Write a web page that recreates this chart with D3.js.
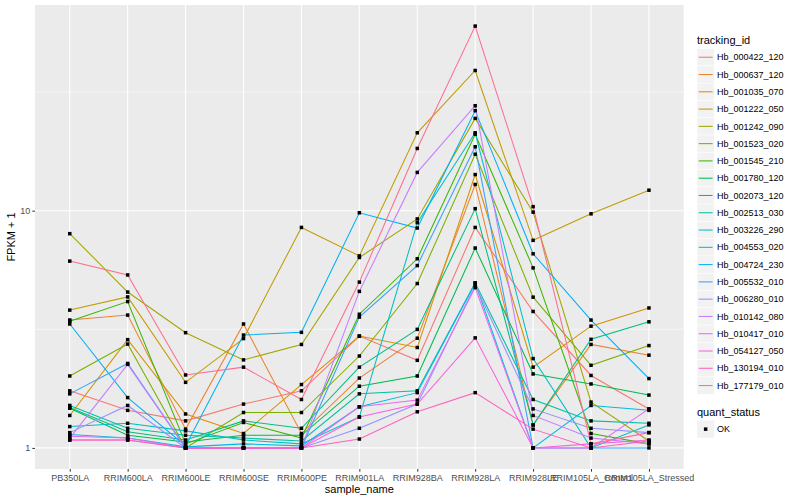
<!DOCTYPE html>
<html>
<head>
<meta charset="utf-8">
<script src="https://cdn.jsdelivr.net/npm/d3@7"></script>
<style>
  body { margin: 0; background: #fff; }
  text { font-family: "Liberation Sans", Arial, sans-serif; }
</style>
</head>
<body>
<svg width="800" height="500"></svg>
<script>
// samples on the x axis
var sampleNames = ["PB350LA", "RRIM600LA", "RRIM600LE", "RRIM600SE", "RRIM600PE", "RRIM901LA",
  "RRIM928BA", "RRIM928LA", "RRIM928LE", "RRIM105LA_Control", "RRIM105LA_Stressed"];

var trackingIds = ["Hb_000422_120", "Hb_000637_120", "Hb_001035_070", "Hb_001222_050", "Hb_001242_090",
  "Hb_001523_020", "Hb_001545_210", "Hb_001780_120", "Hb_002073_120", "Hb_002513_030",
  "Hb_003226_290", "Hb_004553_020", "Hb_004724_230", "Hb_005532_010", "Hb_006280_010",
  "Hb_010142_080", "Hb_010417_010", "Hb_054127_050", "Hb_130194_010", "Hb_177179_010"];

// FPKM + 1, one value per sample
var Hb_000422_120 = [1.74, 1.44, 1.30, 1.53, 1.74, 2.96, 2.34, 8.5, 3.76, 2.02, 1.46];
var Hb_000637_120 = [3.46, 3.63, 1.20, 3.33, 1.15, 1.97, 2.90, 12.9, 1.25, 2.73, 2.46];
var Hb_001035_070 = [1.37, 2.86, 1.39, 1.15, 1.85, 2.96, 2.65, 14.2, 2.19, 3.26, 3.89];
var Hb_001222_050 = [3.81, 4.33, 1.89, 2.89, 8.5, 6.45, 21.3, 39, 7.5, 9.7, 12.2];
var Hb_001242_090 = [8.0, 4.54, 3.06, 2.35, 2.73, 6.35, 9.23, 24.5, 9.86, 1.56, 1.07];
var Hb_001523_020 = [2.01, 2.74, 1.0, 1.41, 1.41, 2.44, 4.93, 17.3, 4.32, 2.23, 2.70];
var Hb_001545_210 = [3.42, 4.14, 1.04, 1.28, 1.10, 3.66, 6.27, 21.0, 5.74, 1.15, 1.04];
var Hb_001780_120 = [1.47, 1.13, 1.06, 1.13, 1.13, 1.82, 2.01, 6.96, 2.05, 1.86, 1.67];
var Hb_002073_120 = [1.48, 1.17, 1.08, 1.30, 1.21, 2.19, 3.16, 10.2, 1.25, 2.87, 3.40];
var Hb_002513_030 = [1.51, 1.21, 1.13, 1.10, 1.07, 1.69, 1.74, 4.96, 1.60, 1.30, 1.27];
var Hb_003226_290 = [1.23, 1.27, 1.18, 1.08, 1.04, 1.35, 8.9, 21.3, 2.38, 1.0, 1.25];
var Hb_004553_020 = [1.14, 1.10, 1.01, 1.04, 1.02, 1.49, 1.71, 4.96, 1.0, 1.51, 1.44];
var Hb_004724_230 = [3.33, 1.63, 1.02, 2.99, 3.07, 9.8, 8.45, 26.4, 6.58, 3.46, 1.96];
var Hb_005532_010 = [1.69, 2.27, 1.0, 1.0, 1.0, 3.56, 5.87, 18.6, 1.0, 1.0, 1.0];
var Hb_006280_010 = [1.16, 1.51, 1.0, 1.0, 1.0, 1.21, 1.53, 4.85, 1.46, 1.21, 1.16];
var Hb_010142_080 = [1.10, 2.25, 1.0, 1.0, 1.0, 4.57, 14.5, 27.7, 1.37, 1.10, 1.04];
var Hb_010417_010 = [1.12, 1.10, 1.0, 1.0, 1.0, 1.49, 1.59, 4.74, 1.0, 1.0, 1.46];
var Hb_054127_050 = [1.08, 1.08, 1.0, 1.0, 1.0, 1.35, 1.53, 2.91, 1.0, 1.04, 1.08];
var Hb_130194_010 = [1.08, 1.08, 1.0, 1.0, 1.0, 1.09, 1.42, 1.71, 1.20, 1.0, 1.07];
var Hb_177179_010 = [6.13, 5.36, 2.03, 2.19, 1.6, 5.0, 18.3, 60, 10.4, 1.04, 1.16];

var seriesValues = [Hb_000422_120, Hb_000637_120, Hb_001035_070, Hb_001222_050, Hb_001242_090,
  Hb_001523_020, Hb_001545_210, Hb_001780_120, Hb_002073_120, Hb_002513_030,
  Hb_003226_290, Hb_004553_020, Hb_004724_230, Hb_005532_010, Hb_006280_010,
  Hb_010142_080, Hb_010417_010, Hb_054127_050, Hb_130194_010, Hb_177179_010];

var yTicks = [1, 10];
var yMinor = [Math.sqrt(10), Math.sqrt(1000)];
var statusLevels = ["OK"];

// ggplot default hue palette for 20 levels
var palette = ["#F8766D", "#EA8331", "#D89000", "#C09B00", "#A3A500", "#7CAE00", "#39B600", "#00BB4E",
  "#00BF7D", "#00C1A3", "#00BFC4", "#00BAE0", "#00B0F6", "#35A2FF", "#9590FF", "#C77CFF",
  "#E76BF3", "#FA62DB", "#FF62BC", "#FF6C91"];

var series = trackingIds.map(function(id, i) {
  return {id: id, values: seriesValues[i].map(function(v, j) { return {sample: sampleNames[j], value: v}; })};
});

var svg = d3.select("svg");
var panel = {left: 35, right: 683.7, top: 5, bottom: 469};

var x = d3.scalePoint()
  .domain(sampleNames)
  .range([panel.left, panel.right])
  .padding(0.6);

var maxLog = Math.log10(d3.max(seriesValues, function(s) { return d3.max(s); }));
var y = d3.scaleLog()
  .domain([Math.pow(10, -0.05 * maxLog), Math.pow(10, 1.05 * maxLog)])
  .range([panel.bottom, panel.top]);

var color = d3.scaleOrdinal().domain(trackingIds).range(palette);

svg.append("rect")
  .attr("x", panel.left).attr("y", panel.top)
  .attr("width", panel.right - panel.left).attr("height", panel.bottom - panel.top)
  .attr("fill", "#EBEBEB");

// grid
svg.append("g").selectAll("line").data(yMinor).enter().append("line")
  .attr("x1", panel.left).attr("x2", panel.right)
  .attr("y1", function(d) { return y(d); }).attr("y2", function(d) { return y(d); })
  .attr("stroke", "#fff").attr("stroke-width", 0.55);
svg.append("g").selectAll("line").data(yTicks).enter().append("line")
  .attr("x1", panel.left).attr("x2", panel.right)
  .attr("y1", function(d) { return y(d); }).attr("y2", function(d) { return y(d); })
  .attr("stroke", "#fff").attr("stroke-width", 1.1);
svg.append("g").selectAll("line").data(sampleNames).enter().append("line")
  .attr("y1", panel.top).attr("y2", panel.bottom)
  .attr("x1", function(d) { return x(d); }).attr("x2", function(d) { return x(d); })
  .attr("stroke", "#fff").attr("stroke-width", 1.1);

var line = d3.line()
  .x(function(d) { return x(d.sample); })
  .y(function(d) { return y(d.value); });

svg.append("g").selectAll("path").data(series).enter().append("path")
  .attr("d", function(d) { return line(d.values); })
  .attr("fill", "none")
  .attr("stroke", function(d) { return color(d.id); })
  .attr("stroke-width", 1.05);

svg.append("g").selectAll("g").data(series).enter().append("g")
  .selectAll("rect").data(function(d) { return d.values; }).enter().append("rect")
  .attr("x", function(d) { return x(d.sample) - 1.75; })
  .attr("y", function(d) { return y(d.value) - 1.75; })
  .attr("width", 3.5).attr("height", 3.5)
  .attr("fill", "#000");

// axes
var xAxis = svg.append("g")
  .attr("transform", "translate(0," + panel.bottom + ")")
  .call(d3.axisBottom(x).tickSize(2.7).tickPadding(3));
var yAxis = svg.append("g")
  .attr("transform", "translate(" + panel.left + ",0)")
  .call(d3.axisLeft(y).tickValues(yTicks).tickFormat(d3.format("d")).tickSize(2.7).tickPadding(2));
[xAxis, yAxis].forEach(function(a) {
  a.select(".domain").remove();
  a.selectAll(".tick line").attr("stroke", "#333");
  a.selectAll(".tick text").attr("fill", "#4D4D4D").attr("font-size", 9)
    .attr("font-family", "'Liberation Sans', Arial, sans-serif");
});

svg.append("text")
  .attr("x", (panel.left + panel.right) / 2).attr("y", 493)
  .attr("text-anchor", "middle").attr("font-size", 11).attr("fill", "#000")
  .text("sample_name");
svg.append("text")
  .attr("transform", "translate(15," + (panel.top + panel.bottom) / 2 + ") rotate(-90)")
  .attr("text-anchor", "middle").attr("font-size", 11).attr("fill", "#000")
  .text("FPKM + 1");

// legend: tracking_id
var legend = svg.append("g").attr("transform", "translate(697,0)");
legend.append("text").attr("x", 0).attr("y", 44).attr("font-size", 11).text("tracking_id");
var item = legend.selectAll("g.item").data(trackingIds).enter().append("g")
  .attr("class", "item")
  .attr("transform", function(d, i) { return "translate(0," + (48.6 + i * 17.28) + ")"; });
item.append("rect").attr("width", 17.28).attr("height", 17.28)
  .attr("fill", "#F2F2F2").attr("stroke", "#fff").attr("stroke-width", 0.5);
item.append("line").attr("x1", 1.7).attr("x2", 15.6).attr("y1", 8.64).attr("y2", 8.64)
  .attr("stroke", function(d) { return color(d); }).attr("stroke-width", 1.05);
item.append("text").attr("x", 20).attr("y", 8.64).attr("dy", "0.35em")
  .attr("font-size", 9).attr("fill", "#000").text(function(d) { return d; });

// legend: quant_status
var legend2 = svg.append("g").attr("transform", "translate(697,0)");
legend2.append("text").attr("x", 0).attr("y", 416).attr("font-size", 11).text("quant_status");
var item2 = legend2.selectAll("g.item").data(statusLevels).enter().append("g")
  .attr("class", "item")
  .attr("transform", function(d, i) { return "translate(0," + (420.5 + i * 17.28) + ")"; });
item2.append("rect").attr("width", 17.28).attr("height", 17.28).attr("fill", "#F2F2F2");
item2.append("rect").attr("x", 6.9).attr("y", 6.9).attr("width", 3.5).attr("height", 3.5).attr("fill", "#000");
item2.append("text").attr("x", 20).attr("y", 8.64).attr("dy", "0.35em")
  .attr("font-size", 9).text(function(d) { return d; });
</script>
</body>
</html>
